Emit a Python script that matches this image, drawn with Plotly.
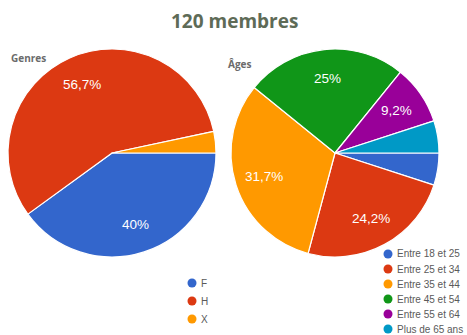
import math
import plotly.graph_objects as go

# Member counts (120 members in total)
genre_labels = ["F", "H", "X"]
genre_counts = [48, 68, 4]

age_labels = ["Entre 18 et 25", "Entre 25 et 34", "Entre 35 et 44",
              "Entre 45 et 54", "Entre 55 et 64", "Plus de 65 ans"]
age_counts = [6, 29, 38, 30, 11, 6]

genre_colors = ["#3366cc", "#dc3912", "#ff9900"]
age_colors = ["#3366cc", "#dc3912", "#ff9900", "#109618", "#990099", "#0099c6"]

W, H = 467, 335
R = 104            # pie radius in px
START = 90         # first slice starts at 3 o'clock, clockwise

def fmt_pct(v, total):
    p = round(100 * v / total, 1)
    s = f"{p:.1f}".replace(".", ",")
    if s.endswith(",0"):
        s = s[:-2]
    return s + "%"

def domain_for(cx, cy):
    return dict(x=[(cx - R) / W, (cx + R) / W],
                y=[1 - (cy + R) / H, 1 - (cy - R) / H])

def slice_labels(values, cx, cy, min_share=0.06):
    total = sum(values)
    anns = []
    acc = 0
    for v in values:
        share = v / total
        mid = START + 360 * (acc + v / 2) / total
        acc += v
        if share < min_share:
            continue
        t = math.radians(mid)
        x = cx + 0.72 * R * math.sin(t)
        y = cy - 0.72 * R * math.cos(t)
        anns.append(dict(x=x / W, y=1 - y / H, xref="paper", yref="paper",
                         xanchor="center", yanchor="middle",
                         text=fmt_pct(v, total), showarrow=False,
                         font=dict(family="Liberation Sans, Arial", size=13.5, color="white")))
    return anns

fig = go.Figure()
fig.add_trace(go.Pie(labels=genre_labels, values=genre_counts, sort=False,
                     direction="clockwise", rotation=START,
                     marker=dict(colors=genre_colors, line=dict(color="white", width=1.2)),
                     textinfo="none", hoverinfo="label+percent",
                     domain=domain_for(112, 153), showlegend=False))
fig.add_trace(go.Pie(labels=age_labels, values=age_counts, sort=False,
                     direction="clockwise", rotation=START,
                     marker=dict(colors=age_colors, line=dict(color="white", width=1.2)),
                     textinfo="none", hoverinfo="label+percent",
                     domain=domain_for(335, 153), showlegend=False))

annotations = []
annotations += slice_labels(genre_counts, 112, 153)
annotations += slice_labels(age_counts, 335, 153)

annotations.append(dict(x=234 / W, y=1 - 21 / H, xref="paper", yref="paper",
                        xanchor="center", yanchor="middle",
                        text="<b>120 membres</b>", showarrow=False,
                        font=dict(family="Open Sans", size=19, color="#5e6b57")))
annotations.append(dict(x=9 / W, y=1 - 58 / H, xref="paper", yref="paper",
                        xanchor="left", yanchor="middle",
                        text="<b>Genres</b>", showarrow=False,
                        font=dict(family="Open Sans", size=10, color="#6b6b6b")))
annotations.append(dict(x=226 / W, y=1 - 64 / H, xref="paper", yref="paper",
                        xanchor="left", yanchor="middle",
                        text="<b>Âges</b>", showarrow=False,
                        font=dict(family="Open Sans", size=10, color="#6b6b6b")))

shapes = []

def legend(labels, colors, mx, my0, step):
    for i, (lab, col) in enumerate(zip(labels, colors)):
        y = my0 + i * step
        shapes.append(dict(type="circle", xref="paper", yref="paper",
                           xsizemode="pixel", ysizemode="pixel",
                           xanchor=mx / W, yanchor=1 - y / H,
                           x0=-4.5, x1=4.5, y0=-4.5, y1=4.5,
                           fillcolor=col, line=dict(width=0)))
        annotations.append(dict(x=(mx + 7) / W, y=1 - y / H, xref="paper", yref="paper",
                                xanchor="left", yanchor="middle", text=lab, showarrow=False,
                                font=dict(family="Liberation Sans, Arial", size=10,
                                          color="#5a5a5a")))

legend(genre_labels, genre_colors, 192, 283, 18)
legend(age_labels, age_colors, 388, 254, 15)

fig.update_layout(width=W, height=H, margin=dict(l=0, r=0, t=0, b=0, pad=0),
                  paper_bgcolor="white", plot_bgcolor="white",
                  annotations=annotations, shapes=shapes, showlegend=False)

fig.write_html("out.html")
